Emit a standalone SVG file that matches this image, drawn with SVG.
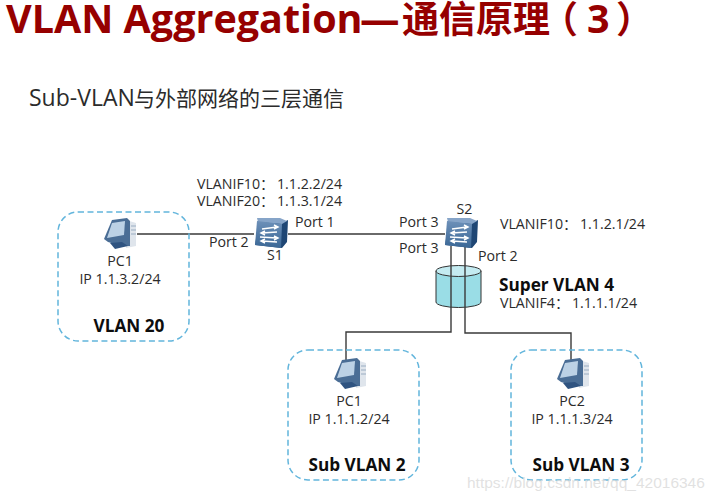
<svg xmlns="http://www.w3.org/2000/svg" width="720" height="500" viewBox="0 0 720 500">
<style>
text{font-family:"Open Sans","Noto Sans CJK SC",sans-serif;fill:#2b2b2b}
.t{font-size:14.200px}
.b{font-size:17.200px;font-weight:700;fill:#0d0d0d}
.m{text-anchor:middle}
.zone{fill:none;stroke:#62b5dc;stroke-width:1.5;stroke-dasharray:6 3.5}
.wire{fill:none;stroke:#3a3a3a;stroke-width:1.4}
</style>
<defs>
<linearGradient id="sw" x1="0" y1="0" x2="0" y2="1"><stop offset="0" stop-color="#6d90b8"/><stop offset="1" stop-color="#3a6796"/></linearGradient>
<g id="pc">
<path d="M22 2 L32 5 V28 L22 30Z" fill="#dfe5ec"/>
<path d="M8 2 L23 0 L26 3 L26 28 L17 28 L4 24 L0 21Z" fill="#4a6d95"/>
<path d="M8 5 L21 3 L20 17 L3 20Z" fill="#bcd1e5"/>
<path d="M6 25 L18 24 L24 28 L11 31Z" fill="#2f5380"/>
<path d="M27 8h5M27 12h5M27 16h5" stroke="#9aadc2"/>
</g>
<g id="switch">
<path d="M5 3 L30 5 L34 3 L33 25 L28 31 L1 28Z" fill="#1f4674"/>
<path d="M3 1 L26 1 L33 4 L28 7 L4 5Z" fill="#86a4c8"/>
<path d="M3 4 L28 7 L27 31 L1 28Z" fill="url(#sw)"/>
<path d="M8 12 L23 10 M20 8 L24 10 L20 12 M23 15 L8 16 M11 14 L7 16 L11 18 M6 20 L23 21 M20 19 L24 21 L20 23 M23 25 L8 24 M11 22 L7 24 L11 26" fill="none" stroke="#fff" stroke-width="1.4"/>
</g>
</defs>
<text x="6" y="33" style="font-size:39.500px;font-weight:700;fill:#960000">VLAN Aggregation<tspan x="360">—</tspan><tspan x="402" y="33" style="font-size:37px">通信原理</tspan><tspan x="541" style="font-size:37px">（</tspan><tspan x="587">3</tspan><tspan x="616" style="font-size:37px">）</tspan></text>
<text x="29" y="106" style="font-size:21px"><tspan style="font-size:23px">Sub-VLAN</tspan><tspan x="134">与外部网络的三层通信</tspan></text>
<g id="connectors">
<path class="wire" d="M137 234H254M288 234H445"/>
</g>
<g id="super-vlan-4">
<path d="M436 271V302A22.500 5.500 0 0 0 481 302V271Z" fill="#9adde6" stroke="#333"/>
<ellipse cx="458.500" cy="271" rx="22.500" ry="5.500" fill="#c4ebf1" stroke="#333"/>
<text x="499" y="291" class="b">Super VLAN 4</text>
<text x="500" y="308" class="t">VLANIF4：<tspan x="572">1.1.1.1/24</tspan></text>
</g>
<g id="connectors-2">
<path class="wire" d="M451 246V332H346V360M465 247V333H571V360"/>
</g>
<g id="vlan-20">
<rect class="zone" x="58" y="212" width="131" height="129" rx="20"/>
<use href="#pc" x="104" y="218"/>
<text x="120" y="266" class="t m">PC1</text>
<text x="120" y="284" class="t m">IP 1.1.3.2/24</text>
<text x="129" y="332" class="b m">VLAN 20</text>
</g>
<g id="s1">
<use href="#switch" x="254" y="217"/>
<text x="275" y="260" class="t m">S1</text>
<text x="209" y="247" class="t">Port 2</text>
<text x="295" y="227" class="t">Port 1</text>
<text x="197" y="189" class="t">VLANIF10：<tspan x="277">1.1.2.2/24</tspan></text>
<text x="197" y="206" class="t">VLANIF20：<tspan x="277">1.1.3.1/24</tspan></text>
</g>
<g id="s2">
<use href="#switch" x="444" y="217"/>
<text x="464.500" y="214" class="t m">S2</text>
<text x="399" y="227" class="t">Port 3</text>
<text x="399" y="253" class="t">Port 3</text>
<text x="478" y="261" class="t">Port 2</text>
<text x="500" y="229" class="t">VLANIF10：<tspan x="580">1.1.2.1/24</tspan></text>
</g>
<g id="sub-vlan-2">
<rect class="zone" x="288" y="350" width="131" height="130" rx="20"/>
<use href="#pc" x="334" y="358"/>
<text x="349" y="406" class="t m">PC1</text>
<text x="349" y="424" class="t m">IP 1.1.1.2/24</text>
<text x="357" y="471" class="b m">Sub VLAN 2</text>
</g>
<g id="sub-vlan-3">
<rect class="zone" x="511" y="350" width="131" height="130" rx="20"/>
<use href="#pc" x="557" y="358"/>
<text x="572" y="406" class="t m">PC2</text>
<text x="572" y="424" class="t m">IP 1.1.1.3/24</text>
<text x="581" y="471" class="b m">Sub VLAN 3</text>
</g>
<text x="467" y="488" style="font-family:'Liberation Sans',sans-serif;font-size:15.500px;fill:#dcdcdc;fill-opacity:.85">https://blog.csdn.net/qq_42016346</text>
</svg>
